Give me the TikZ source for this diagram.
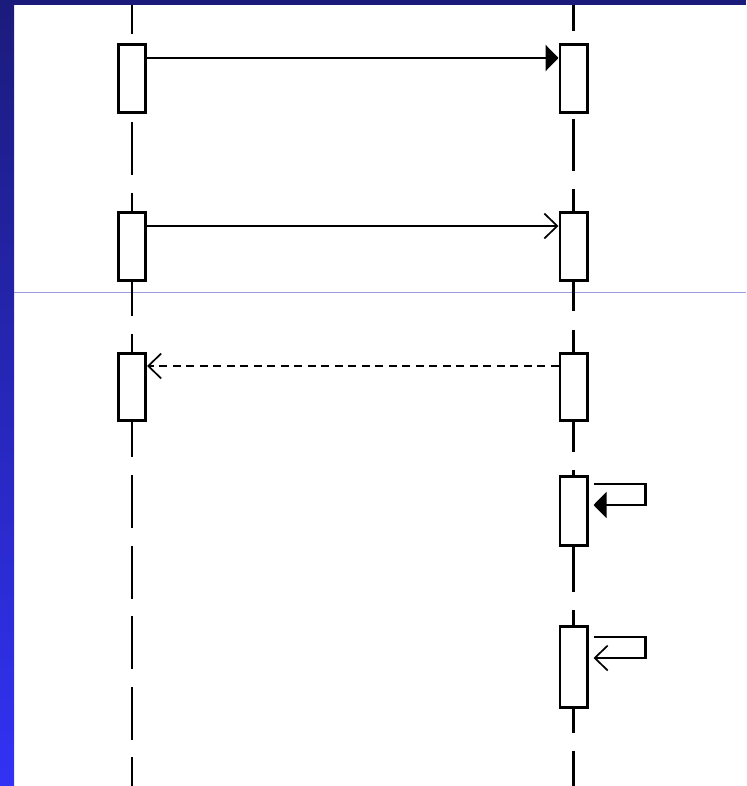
\documentclass[tikz,border=0pt]{standalone}
\usetikzlibrary{arrows.meta,calc}
\definecolor{bandnavy}{RGB}{27,27,124}
\definecolor{stripblue}{RGB}{50,50,245}
\definecolor{rulelav}{RGB}{154,154,222}
\tikzset{
  act/.style={draw=black, fill=white, line width=2.6pt, minimum width=27.4pt, inner sep=0pt},
  lifeline/.style={line width=2.7pt},
  msg/.style={line width=2.5pt},
  replymsg/.style={line width=2.3pt, dash pattern=on 8pt off 5.5pt},
  selfmsg/.style={line width=2.3pt},
  solidtip/.style={-{Triangle[length=13pt,width=26pt]}},
  opentip/.style={-{Straight Barb[length=13pt,width=25pt,line width=1.7pt]}},
}
\begin{document}
\begin{tikzpicture}[x=1pt,y=-1pt]
\useasboundingbox (0,0) rectangle (746,786);
\fill[white] (0,0) rectangle (746,786);

% thin separator rule
\coordinate (ruleA) at (14,292.3);
\coordinate (ruleB) at (746,292.3);
\draw[rulelav, line width=1pt] (ruleA) -- (ruleB);

% lifelines
\coordinate (lt) at (132,0);
\coordinate (lb) at (132,786);
\coordinate (rt) at (573.5,0);
\coordinate (rb) at (573.5,786);
\draw[lifeline, dash pattern=on 53pt off 17.6pt, dash phase=19.2pt] (lt) -- (lb);
\draw[lifeline, dash pattern=on 52pt off 18.2pt, dash phase=21.4pt] (rt) -- (rb);

% activation boxes
\node[act, minimum height=68.4pt] (l1) at (132,78.5) {};
\node[act, minimum height=68.4pt] (r1) at (573.5,78.5) {};
\node[act, minimum height=68.4pt] (l2) at (132,246.5) {};
\node[act, minimum height=68.4pt] (r2) at (573.5,246.5) {};
\node[act, minimum height=67.4pt] (l3) at (132,387) {};
\node[act, minimum height=67.4pt] (r3) at (573.5,387) {};
\node[act, minimum height=69.4pt] (r4) at (573.5,511) {};
\node[act, minimum height=81.4pt] (r5) at (573.5,667) {};

% message levels
\coordinate (y1) at (0,58);
\coordinate (y2) at (0,226);
\coordinate (y3) at (0,366);
\coordinate (y4a) at (0,484);
\coordinate (y4b) at (0,505);
\coordinate (y5a) at (0,637);
\coordinate (y5b) at (0,658);

% synchronous call
\draw[msg, solidtip] (l1.east |- y1) -- (r1.west |- y1);
% asynchronous call
\draw[msg, opentip] (l2.east |- y2) -- (r2.west |- y2);
% return
\draw[replymsg, opentip] (r3.west |- y3) -- (l3.east |- y3);
% self calls
\draw[selfmsg, solidtip] ($(r4.east |- y4a)+(5,0)$) -- ++(52,0) -- ++(0,21) -- ($(r4.east |- y4b)+(5,0)$);
\draw[selfmsg, opentip] ($(r5.east |- y5a)+(5,0)$) -- ++(52,0) -- ++(0,21) -- ($(r5.east |- y5b)+(5,0)$);

% frame bands
\shade[top color=bandnavy, bottom color=stripblue] (0,0) rectangle (14,786);
\fill[bandnavy] (0,0) rectangle (746,5);
\end{tikzpicture}
\end{document}
